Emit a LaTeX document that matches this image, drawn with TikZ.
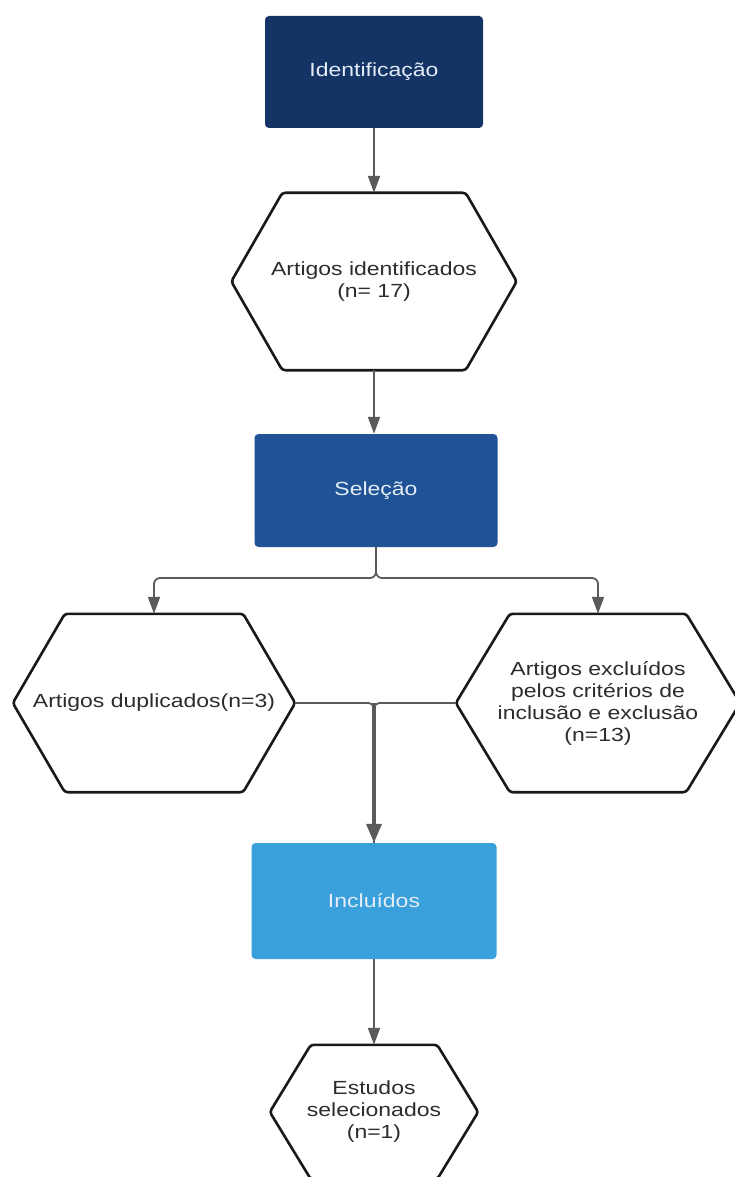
\documentclass[tikz,border=0pt]{standalone}
\usepackage{fontspec}
\setmainfont{Liberation Sans}[FakeStretch=1.21]
\usepackage{tikz}
\usetikzlibrary{
    arrows.meta,
    positioning,
    calc
}
\definecolor{navy}{HTML}{143466}
\definecolor{midblue}{HTML}{1F5396}
\definecolor{skyblue}{HTML}{3AA0DC}
\definecolor{linegray}{HTML}{5A5A5A}
\definecolor{textgray}{HTML}{2C2C2C}
\definecolor{boxtext}{HTML}{E4ECF7}

\begin{document}
\begin{tikzpicture}[
    x=1pt, y=-1pt,
    every node/.style={font=\fontsize{19}{22}\selectfont},
    phase/.style={rectangle, rounded corners=4pt, align=center,
      text=boxtext, inner sep=0pt},
    hexa/.style={rectangle, align=center, text=textgray, inner sep=0pt,
      minimum width=285pt, minimum height=177pt},
    hexline/.style={draw=black!90, line width=2.6pt, rounded corners=3pt,
      line join=round},
    conn/.style={draw=linegray, line width=1.8pt},
    arrow/.style={conn, -{Triangle[length=17pt, width=12pt]}},
    bigarrow/.style={draw=linegray, line width=3.6pt,
      -{Triangle[length=19pt, width=15pt]}}
]
\useasboundingbox (0,0) rectangle (735,1177);
\node[phase, fill=navy, minimum width=218pt, minimum height=112pt] (ident) at (374,72) {Identificação};
\node[hexa] (artid) at (374,281.5) {Artigos identificados\\(n= 17)};
\node[phase, fill=midblue, minimum width=243pt, minimum height=113pt] (sel) at (376,490.5) {Seleção};
\node[hexa, minimum width=282pt, minimum height=178pt] (dup) at (154,703) {Artigos duplicados(n=3)};
\node[hexa, minimum width=284pt, minimum height=178pt] (exc) at (598,703) {Artigos excluídos\\pelos critérios de\\inclusão e exclusão\\(n=13)};
\node[phase, fill=skyblue, minimum width=245pt, minimum height=116pt] (incl) at (374,901) {Incluídos};
\node[hexa, minimum width=208pt, minimum height=134pt] (est) at (374,1112) {Estudos\\selecionados\\(n=1)};
% hexagon outlines
\foreach \n/\d in {artid/51, dup/52, exc/54, est/41}
  \draw[hexline] (\n.west) -- ([xshift=\d pt]\n.north west) -- ([xshift=-\d pt]\n.north east)
    -- (\n.east) -- ([xshift=-\d pt]\n.south east) -- ([xshift=\d pt]\n.south west) -- cycle;
\coordinate (split) at (376,578);
\coordinate (merge) at (374,703);
\draw[arrow] (ident.south) -- (ident.south |- artid.north);
\draw[arrow] (artid.south) -- (artid.south |- sel.north);
\draw[arrow, rounded corners=6pt] (sel.south) -- (split) -| (dup.north);
\draw[arrow, rounded corners=6pt] (sel.south) -- (split) -| (exc.north);
\draw[conn, rounded corners=6pt] (dup.east) -| (incl.north);
\draw[conn, rounded corners=6pt] (exc.west) -| (incl.north);
\draw[bigarrow] (merge) -- (incl.north);
\draw[arrow] (incl) -- (est);
\end{tikzpicture}
\end{document}
